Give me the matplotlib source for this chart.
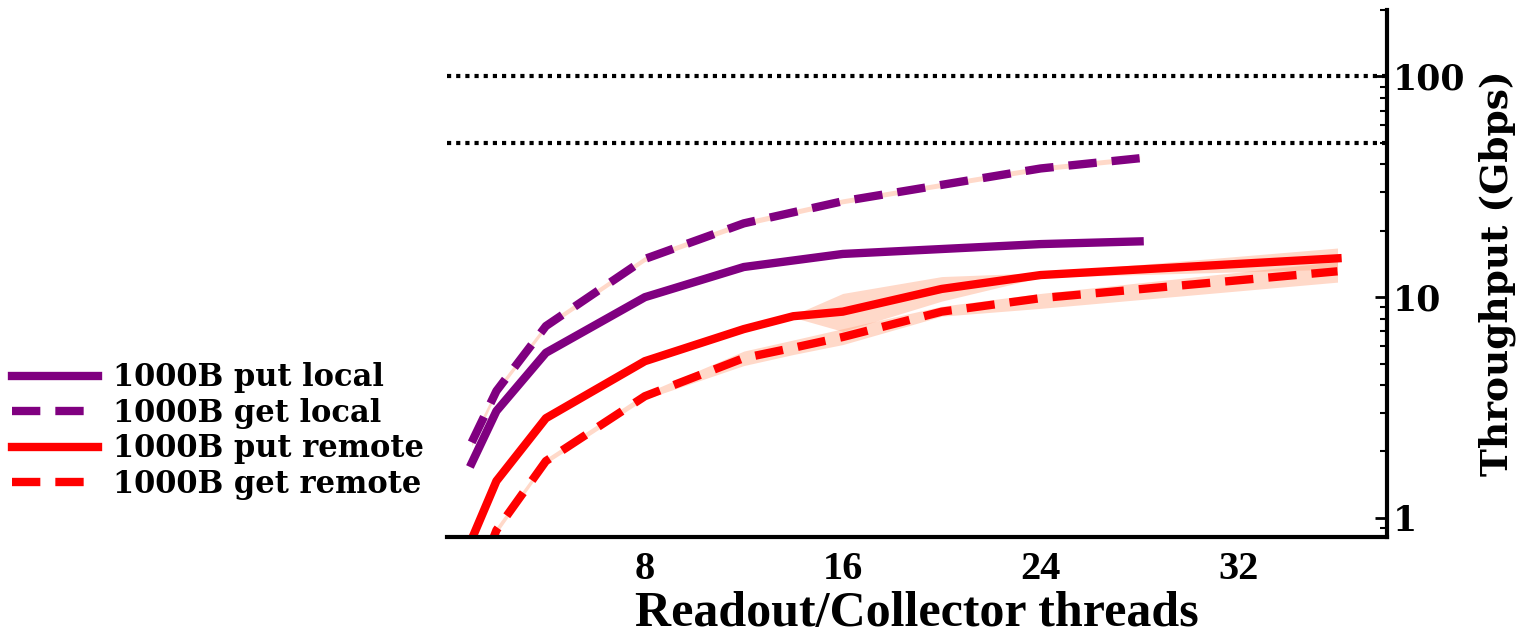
import matplotlib
matplotlib.use("Agg")
import matplotlib.pyplot as plt

plt.rcParams['font.family'] = ['DejaVu Serif']
plt.rcParams['font.weight'] = 'bold'

# data (throughput in Gbps, log scale)
x_local = [1, 2, 4, 8, 12, 16, 24, 28]
put_local = [1.77, 3.05, 5.6, 10.0, 13.7, 15.7, 17.4, 17.9]
put_local_lo = [1.72, 2.98, 5.5, 9.8, 13.4, 15.4, 17.1, 17.6]
put_local_hi = [1.82, 3.12, 5.7, 10.2, 14.0, 16.0, 17.7, 18.2]
get_local = [2.2, 3.76, 7.4, 14.9, 21.6, 27.2, 38.3, 42.6]
get_local_lo = [2.12, 3.65, 7.2, 14.5, 21.0, 26.5, 37.3, 41.5]
get_local_hi = [2.28, 3.87, 7.6, 15.3, 22.2, 27.9, 39.3, 43.7]

x_remote = [1, 2, 4, 8, 12, 14, 16, 20, 24, 36]
put_remote = [0.8, 1.47, 2.83, 5.13, 7.17, 8.2, 8.6, 10.9, 12.6, 15.0]
put_remote_lo = [0.78, 1.43, 2.76, 5.0, 7.0, 8.1, 7.0, 9.6, 12.3, 13.4]
put_remote_hi = [0.82, 1.51, 2.9, 5.26, 7.35, 8.3, 10.4, 12.4, 12.9, 16.7]
get_remote = [0.45, 0.88, 1.81, 3.56, 5.3, 5.9, 6.6, 8.6, 9.9, 13.1]
get_remote_lo = [0.43, 0.85, 1.76, 3.45, 4.9, 5.5, 6.1, 8.2, 8.9, 11.7]
get_remote_hi = [0.47, 0.91, 1.86, 3.67, 5.7, 6.4, 7.2, 9.1, 10.4, 14.5]

link_speeds = [100, 50]

purple = '#800080'
red = '#ff0000'
band = 'lightsalmon'
narrow = ['Liberation Serif', 'DejaVu Serif']

fig = plt.figure(figsize=(15.27, 6.36), dpi=100)
ax = fig.add_axes([0.2927, 0.1557, 0.6156, 0.8286])

for lo, hi in [(put_local_lo, put_local_hi), (get_local_lo, get_local_hi)]:
    ax.fill_between(x_local, lo, hi, color=band, alpha=0.4, lw=0)
for lo, hi in [(put_remote_lo, put_remote_hi), (get_remote_lo, get_remote_hi)]:
    ax.fill_between(x_remote, lo, hi, color=band, alpha=0.4, lw=0)

dash = (0, (3.4, 1.8))
l1, = ax.plot(x_local, put_local, color=purple, lw=6, label='1000B put local')
l2, = ax.plot(x_local, get_local, color=purple, lw=6, ls=dash, label='1000B get local')
l3, = ax.plot(x_remote, put_remote, color=red, lw=6, label='1000B put remote')
l4, = ax.plot(x_remote, get_remote, color=red, lw=6, ls=dash, label='1000B get remote')

for s in link_speeds:
    ax.axhline(s, color='black', lw=3, ls=(0, (1, 1.2)))

ax.set_yscale('log')
ax.set_xlim(0, 38)
ax.set_ylim(0.82, 200)
ax.set_xticks([8, 16, 24, 32])
ax.tick_params(axis='x', length=0, pad=10)
for t in ax.get_xticklabels():
    t.set_fontfamily(narrow)
    t.set_fontsize(29)
    t.set_fontweight('bold')

ax.yaxis.tick_right()
ax.yaxis.set_label_position('right')
ax.set_yticks([1, 10, 100])
ax.set_yticklabels(['1', '10', '100'])
ax.tick_params(axis='y', which='major', direction='in', length=9, width=2, labelsize=25, pad=4)
ax.tick_params(axis='y', which='minor', direction='in', length=5, width=1.5)

for side in ['left', 'top']:
    ax.spines[side].set_visible(False)
for side in ['right', 'bottom']:
    ax.spines[side].set_linewidth(3)

ax.set_xlabel('Readout/Collector threads', fontsize=36, fontweight='bold',
              family=narrow, labelpad=2)
ax.set_ylabel('Throughput (Gbps)', fontsize=27, fontweight='bold', labelpad=10)

fig.legend(handles=[l1, l2, l3, l4], loc='center left', bbox_to_anchor=(0.0, 0.322),
           frameon=False, fontsize=22, handlelength=2.8, handletextpad=0.5,
           labelspacing=0.15, borderpad=0.1, borderaxespad=0.3)

fig.savefig('out.png', dpi=100)
